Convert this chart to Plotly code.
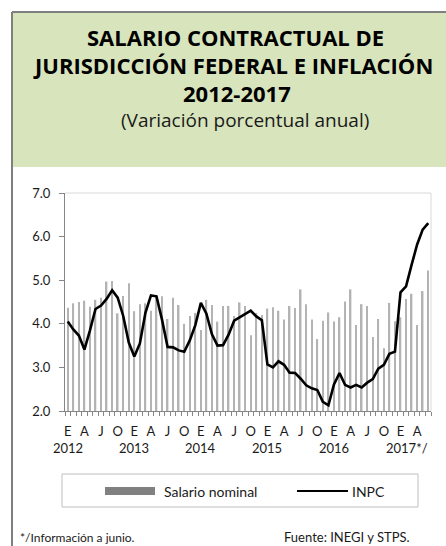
import plotly.graph_objects as go

# ---------------- data ----------------
months = list(range(66))  # Jan 2012 .. Jun 2017
month_letters = ["E", "A", "J", "O"]
year_labels = ["2012", "2013", "2014", "2015", "2016", "2017*/"]

salario_nominal = [
    4.37, 4.47, 4.50, 4.53, 4.39, 4.55, 4.60, 4.97, 4.98, 4.24, 4.64, 4.93,
    4.29, 4.45, 4.47, 4.30, 4.63, 4.63, 4.11, 4.60, 4.43, 4.00, 4.18, 4.25,
    3.86, 4.55, 4.43, 4.05, 4.41, 4.41, 4.18, 4.49, 4.41, 3.74, 4.25, 4.20,
    4.35, 4.38, 4.30, 4.10, 4.41, 4.36, 4.79, 4.45, 4.10, 3.65, 4.07, 4.26,
    4.05, 4.15, 4.51, 4.79, 3.97, 4.45, 4.41, 3.70, 4.11, 3.44, 4.48, 4.06,
    4.15, 4.57, 4.69, 3.97, 4.75, 5.22,
]
inpc = [
    4.05, 3.87, 3.73, 3.41, 3.85, 4.34, 4.42, 4.57, 4.77, 4.60, 4.18, 3.57,
    3.25, 3.55, 4.25, 4.65, 4.63, 4.09, 3.47, 3.46, 3.39, 3.36, 3.62, 3.97,
    4.48, 4.23, 3.76, 3.50, 3.51, 3.75, 4.07, 4.15, 4.22, 4.30, 4.17, 4.08,
    3.07, 3.00, 3.14, 3.06, 2.88, 2.87, 2.74, 2.59, 2.52, 2.48, 2.21, 2.13,
    2.61, 2.87, 2.60, 2.54, 2.60, 2.54, 2.65, 2.73, 2.97, 3.06, 3.31, 3.36,
    4.72, 4.86, 5.35, 5.82, 6.16, 6.31,
]
y_ticks = [2, 3, 4, 5, 6, 7]

# ---------------- layout helpers ----------------
W, H = 446, 546
L, R, T, B = 65, 431, 193, 411  # plot area in pixels


def px(p):
    return (p - L) / (R - L)


def py(p):
    return (B - p) / (B - T)


FONT = "Lato"
TFONT = "Open Sans"
GRAY_AX = "#868686"

fig = go.Figure()
fig.add_trace(go.Bar(x=months, y=salario_nominal, width=0.28,
                     marker=dict(color="#b3b3b3", line=dict(width=0)),
                     name="Salario nominal", showlegend=False))
fig.add_trace(go.Scatter(x=months, y=inpc, mode="lines",
                         line=dict(color="#000000", width=2.6),
                         name="INPC", showlegend=False))

tickvals = [m for m in months if m % 3 == 0]
ticktext = [month_letters[(m // 3) % 4] for m in tickvals]

fig.update_xaxes(range=[-0.5, 65.5], tickvals=tickvals, ticktext=ticktext,
                 ticks="", showline=True, linecolor=GRAY_AX, linewidth=1,
                 tickfont=dict(family=FONT, size=13, color="#1a1a1a"),
                 ticklabelstandoff=8, showgrid=False, zeroline=False,
                 minor=dict(tickmode="linear", tick0=-0.5, dtick=1, ticks="outside",
                            ticklen=4, tickcolor=GRAY_AX, tickwidth=1, showgrid=False))
fig.update_yaxes(range=[2, 7], tickvals=y_ticks, tickformat=".1f", ticks="outside",
                 ticklen=5, tickcolor=GRAY_AX, showline=True, linecolor=GRAY_AX,
                 linewidth=1, showgrid=False, zeroline=False,
                 tickfont=dict(family=FONT, size=13, color="#1a1a1a"),
                 ticklabelstandoff=6)

shapes = [
    # header background
    dict(type="rect", xref="paper", yref="paper", x0=px(12), x1=px(W + 2),
         y0=py(167), y1=py(12), fillcolor="#d8e4bc", line=dict(width=0), layer="below"),
    # outer frame (left and top)
    dict(type="line", xref="paper", yref="paper", x0=px(12), x1=px(12),
         y0=py(12), y1=py(H + 2), line=dict(color="#7f7f7f", width=2)),
    dict(type="line", xref="paper", yref="paper", x0=px(12), x1=px(W + 2),
         y0=py(12), y1=py(12), line=dict(color="#7f7f7f", width=2)),
    # plot area top and right border
    dict(type="line", xref="paper", yref="paper", x0=0, x1=1, y0=1, y1=1,
         line=dict(color="#d9d9d9", width=1)),
    dict(type="line", xref="paper", yref="paper", x0=1, x1=1, y0=0, y1=1,
         line=dict(color="#d9d9d9", width=1)),
    # legend box
    dict(type="rect", xref="paper", yref="paper", x0=px(62), x1=px(418),
         y0=py(507), y1=py(474), line=dict(color="#bfbfbf", width=1)),
    dict(type="rect", xref="paper", yref="paper", x0=px(105), x1=px(155),
         y0=py(495), y1=py(487), fillcolor="#808080", line=dict(width=0)),
    dict(type="line", xref="paper", yref="paper", x0=px(297), x1=px(348),
         y0=py(491), y1=py(491), line=dict(color="#000000", width=2)),
]

annotations = []


def txt(text, x, y, size, bold=False, xanchor="center", color="#000000", family=FONT):
    annotations.append(dict(text=f"<b>{text}</b>" if bold else text,
                            xref="paper", yref="paper", x=px(x), y=py(y),
                            xanchor=xanchor, yanchor="middle", showarrow=False,
                            font=dict(family=family, size=size, color=color)))


txt("SALARIO CONTRACTUAL DE", 235, 37, 22, bold=True, family=TFONT)
txt("JURISDICCIÓN FEDERAL E INFLACIÓN", 233, 65, 22, bold=True, family=TFONT)
txt("2012-2017", 237, 93, 22, bold=True, family=TFONT)
txt("(Variación porcentual anual)", 245, 120, 19, family=TFONT, color="#1a1a1a")

# year row under month letters
for i, lab in enumerate(year_labels):
    xm = 12 * i if i < 5 else 61.2
    annotations.append(dict(text=lab, xref="x", yref="paper", x=xm, y=py(448),
                            xanchor="center", yanchor="middle", showarrow=False,
                            font=dict(family=FONT, size=13, color="#1a1a1a")))

txt("Salario nominal", 162, 491, 14, xanchor="left", color="#1a1a1a")
txt("INPC", 350, 491, 14, xanchor="left", color="#1a1a1a")
txt("*/Información a junio.", 18, 537, 12, xanchor="left", color="#1a1a1a")
txt("Fuente: INEGI y STPS.", 412, 537, 13, xanchor="right", color="#1a1a1a")

fig.update_layout(width=W, height=H, margin=dict(l=L, r=W - R, t=T, b=H - B),
                  paper_bgcolor="#ffffff", plot_bgcolor="#ffffff",
                  shapes=shapes, annotations=annotations, bargap=0.7,
                  font=dict(family=FONT), showlegend=False)

fig.write_html("out.html", config={"displayModeBar": False},
               post_script="document.body.style.margin='0';document.body.style.overflow='hidden';")
